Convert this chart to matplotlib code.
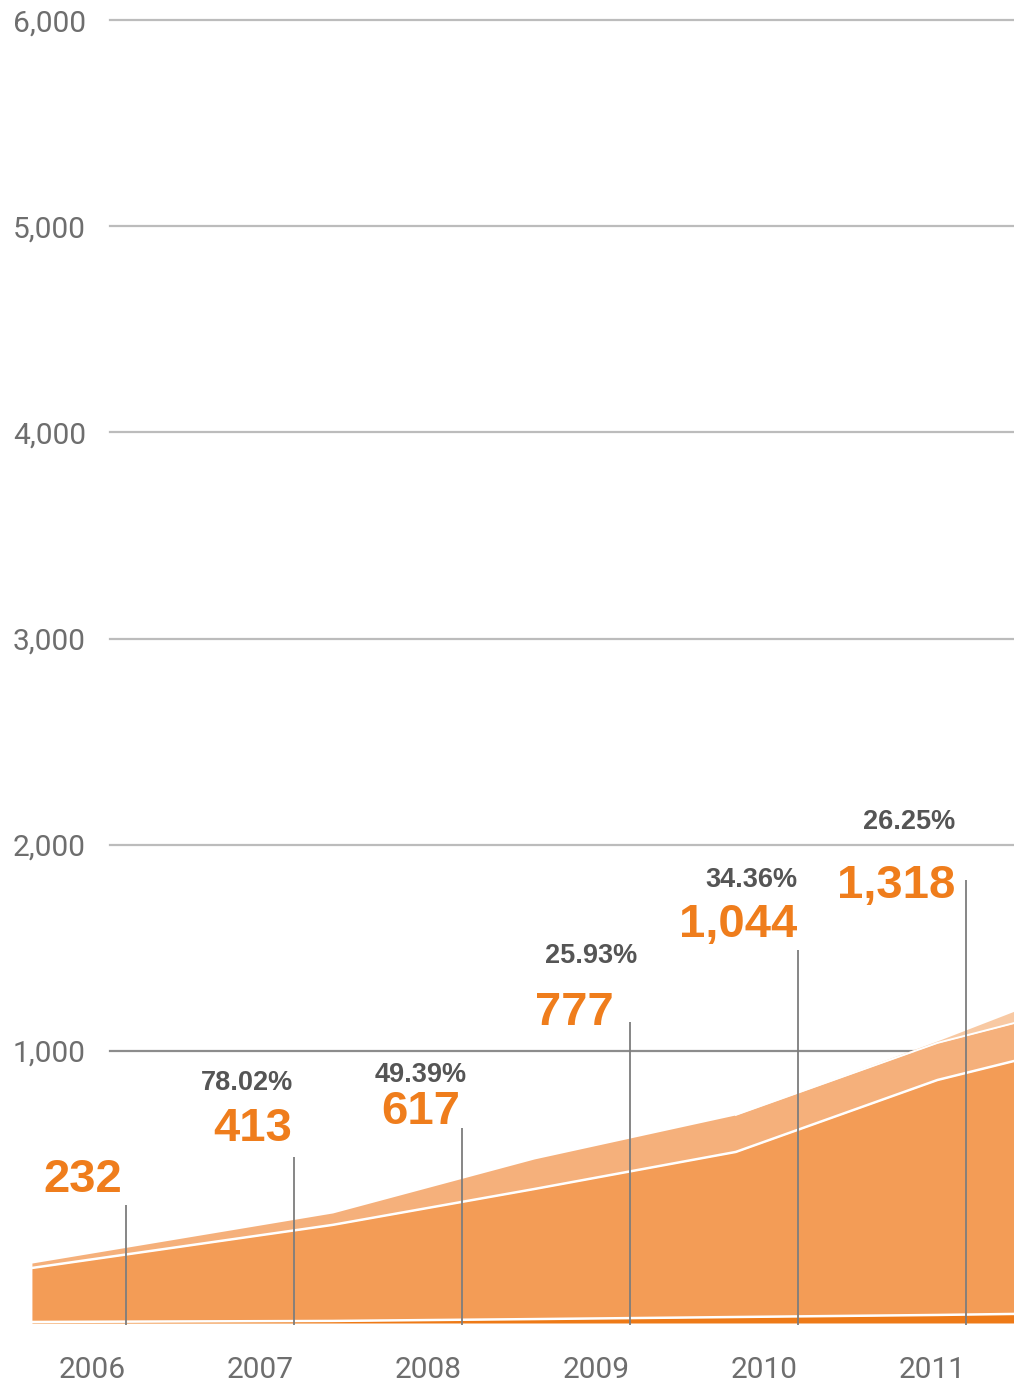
import numpy as np
import matplotlib
matplotlib.use("Agg")
import matplotlib.pyplot as plt
import matplotlib.transforms as mtransforms

# area series (layer thickness, stacked from the bottom of the chart)
area_x = [2005.44, 2007.23, 2008.43, 2009.63, 2010.83, 2011.29]
bottom_layer = [5, 10, 19, 29, 39, 44]
main_layer = [262, 466, 631, 801, 1140, 1228]
light_layer = [24, 58, 146, 180, 180, 184]
faint_layer = [0, 0, 0, 0, 10, 58]

# yearly markers
years = [2006, 2007, 2008, 2009, 2010, 2011]
values = ['232', '413', '617', '777', '1,044', '1,318']
growth = ['', '78.02%', '49.39%', '25.93%', '34.36%', '26.25%']
marker_top = [251, 484, 624, 1139, 1489, 1829]

y_ticks = [1000, 2000, 3000, 4000, 5000, 6000]

# label placement (data y, pixel x offset from the marker line)
value_y = [372, 620, 702, 1183, 1610, 1799]
value_dx = [-4, -2, -2, -16, -1, -11]
growth_y = [843, 843, 882, 1459, 1828, 2110]
growth_dx = [-1, -1, 5, 7, -1, -11]

BASE = -321
ORANGE = '#EF7D1C'
GRAY_TXT = '#6e6e6e'

fig = plt.figure(figsize=(10.14, 13.84), dpi=100)
ax = fig.add_axes([0, 0, 1, 1])
ax.set_xlim(2005.25, 2011.2857)
ax.set_ylim(-617, 6098)

# grid lines
for v in y_ticks:
    col = '#8c8c8c' if v == 1000 else '#bcbcbc'
    ax.axhline(v, xmin=0.1085, xmax=1, color=col, lw=1.6, zorder=1)

# stacked areas
x = np.array(area_x)
b0 = np.full(len(x), BASE, dtype=float)
b1 = b0 + np.array(bottom_layer)
b2 = b1 + np.array(main_layer)
b3 = b2 + np.array(light_layer)
b4 = b3 + np.array(faint_layer)
ax.fill_between(x, b0, b1, color='#EE7A17', lw=0, zorder=2)
ax.fill_between(x, b1, b2, color='#F39C56', lw=0, zorder=2)
ax.fill_between(x, b2, b3, color='#F5B07B', lw=0, zorder=2)
ax.fill_between(x, b3, b4, color='#F8C9A3', lw=0, zorder=2)
for edge in (b1, b2):
    ax.plot(x, edge, color='white', lw=1.8, zorder=3)
ax.plot(x[3:], b3[3:], color='white', lw=1.4, zorder=3)

# marker lines and labels
for i, yr in enumerate(years):
    ax.vlines(yr, -331, marker_top[i], color='#7d7d7d', lw=1.3, zorder=4)
    ax.annotate(values[i], (yr, value_y[i]), xytext=(value_dx[i], 0),
                textcoords='offset pixels', ha='right', va='center',
                fontsize=34, fontweight='bold', color=ORANGE,
                family='Liberation Sans', zorder=5)
    if growth[i]:
        ax.annotate(growth[i], (yr, growth_y[i]), xytext=(growth_dx[i], 0),
                    textcoords='offset pixels', ha='right', va='center',
                    fontsize=19.5, fontweight='bold', color='#555555',
                    family='Liberation Sans', zorder=5)

# axes styling
for s in ax.spines.values():
    s.set_visible(False)
ax.set_yticks(y_ticks)
ax.set_yticklabels([f'{v:,}' for v in y_ticks])
ax.set_xticks(years)
ax.set_xticklabels([str(y) for y in years])
ax.tick_params(axis='y', length=0, pad=-9.4, labelsize=21.5, labelcolor=GRAY_TXT)
ax.tick_params(axis='x', length=0, pad=-20.5, labelsize=21.5, labelcolor=GRAY_TXT)
for lab in ax.get_yticklabels():
    lab.set_horizontalalignment('left')
    lab.set_family('Roboto')
shift = mtransforms.ScaledTranslation(-0.34, 0, fig.dpi_scale_trans)
for lab in ax.get_xticklabels():
    lab.set_family('Roboto')
    lab.set_transform(lab.get_transform() + shift)

fig.savefig('out.png', dpi=100)
